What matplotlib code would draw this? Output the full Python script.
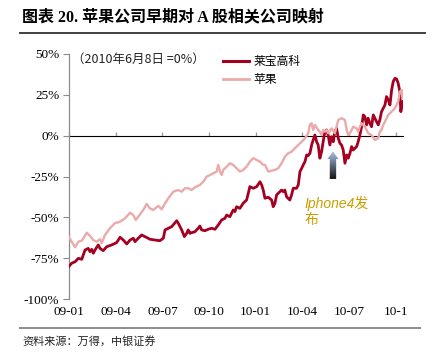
import numpy as np
import matplotlib
matplotlib.use("Agg")
import matplotlib.pyplot as plt
import matplotlib.transforms as mtransforms
from matplotlib.patches import Polygon
from matplotlib.colors import LinearSegmentedColormap
from matplotlib.lines import Line2D

plt.rcParams['font.family'] = ['Liberation Serif', 'Noto Sans CJK SC']

# ---------------- data (months since 2009-01, % change, 2010-06-08 = 0%) -----------
laibao_month = [0.00, 0.17, 0.39, 0.60, 0.82, 1.03, 1.24, 1.35, 1.46, 1.56, 1.67, 1.88, 1.99, 2.20,
                2.42, 2.74, 3.06, 3.28, 3.49, 3.71, 3.92, 4.13, 4.24, 4.45, 4.67, 4.88, 5.20, 5.52,
                5.84, 6.06, 6.17, 6.38, 6.60, 6.92, 7.02, 7.24, 7.41, 7.56, 7.66, 7.77, 7.88, 8.09,
                8.30, 8.41, 8.52, 8.73, 8.95, 9.17, 9.38, 9.59, 9.81, 10.02, 10.13, 10.34, 10.55,
                10.66, 10.77, 10.98, 11.19, 11.41, 11.52, 11.62, 11.84, 12.06, 12.27, 12.38, 12.48,
                12.59, 12.80, 13.02, 13.12, 13.23, 13.34, 13.44, 13.66, 13.76, 13.87, 13.98, 14.19,
                14.30, 14.41, 14.62, 14.73, 14.84, 14.95, 15.05, 15.16, 15.27, 15.37, 15.48, 15.59,
                15.69, 15.80, 15.91, 16.01, 16.12, 16.23, 16.33, 16.44, 16.55, 16.65, 16.76, 16.87,
                16.98, 17.08, 17.19, 17.30, 17.41, 17.51, 17.62, 17.73, 17.84, 17.94, 18.05, 18.16,
                18.26, 18.37, 18.48, 18.58, 18.69, 18.80, 18.91, 19.01, 19.12, 19.22, 19.33, 19.44,
                19.55, 19.65, 19.76, 19.87, 19.97, 20.08, 20.19, 20.30, 20.40, 20.51, 20.62, 20.73,
                20.83, 20.94, 21.05, 21.15, 21.26, 21.32, 21.40, 21.46]
laibao_value = [-80.0, -78.1, -77.2, -75.1, -75.7, -70.0, -69.0, -71.0, -69.6, -72.0, -70.0, -66.9,
                -69.0, -70.4, -68.0, -66.9, -65.5, -62.2, -63.9, -66.3, -63.9, -62.8, -64.9, -62.8,
                -60.8, -61.8, -63.4, -63.9, -64.3, -62.8, -57.7, -56.7, -55.7, -52.1, -53.6, -57.7,
                -61.8, -59.8, -57.7, -59.8, -59.4, -58.8, -56.7, -55.3, -57.7, -58.2, -57.3, -56.7,
                -57.3, -54.7, -51.6, -50.6, -48.6, -49.6, -45.5, -46.5, -43.5, -44.5, -41.4, -39.4,
                -35.3, -31.2, -32.2, -31.2, -28.2, -30.2, -33.3, -38.3, -37.7, -39.4, -43.5, -41.4,
                -36.3, -35.3, -33.3, -34.3, -33.3, -37.4, -39.4, -36.3, -32.2, -32.2, -30.2, -22.0,
                -20.0, -17.9, -15.9, -11.8, -12.2, -10.8, -5.7, -2.6, 0.4, -3.7, -5.7, -13.8, -9.8,
                -3.7, 2.4, 3.5, 0.4, -5.7, -0.6, -3.7, 2.4, 4.5, -1.6, -4.7, -5.7, -8.8, -16.9,
                -11.8, -13.8, -10.8, -6.7, -8.8, -7.7, -6.7, -3.7, 0.4, 5.5, 12.7, 11.6, 6.6, 10.7,
                7.6, 5.5, 12.7, 10.7, 8.6, 6.6, 9.6, 14.7, 16.8, 18.8, 23.9, 21.9, 18.8, 28.0, 33.1,
                35.1, 34.7, 32.1, 26.9, 14.7, 18.8, 20.8]

apple_month = [0.00, 0.17, 0.39, 0.60, 0.82, 1.14, 1.35, 1.56, 1.78, 1.99, 2.10, 2.31, 2.63, 2.95,
               3.28, 3.60, 3.92, 4.13, 4.29, 4.45, 4.77, 4.99, 5.20, 5.41, 5.74, 5.95, 6.17, 6.38,
               6.70, 7.02, 7.24, 7.45, 7.66, 7.88, 8.09, 8.41, 8.63, 8.84, 9.06, 9.27, 9.49, 9.59,
               9.70, 9.81, 9.91, 10.13, 10.34, 10.55, 10.77, 10.98, 11.19, 11.41, 11.62, 11.84,
               12.06, 12.27, 12.48, 12.59, 12.70, 12.80, 13.02, 13.23, 13.44, 13.66, 13.87, 14.08,
               14.30, 14.52, 14.73, 14.95, 15.16, 15.37, 15.48, 15.59, 15.69, 15.80, 16.01, 16.12,
               16.23, 16.33, 16.44, 16.55, 16.65, 16.87, 17.08, 17.30, 17.51, 17.73, 17.84, 17.94,
               18.05, 18.16, 18.26, 18.48, 18.58, 18.69, 18.80, 19.01, 19.12, 19.22, 19.44, 19.65,
               19.87, 19.97, 20.08, 20.19, 20.30, 20.51, 20.73, 20.94, 21.15, 21.26, 21.37, 21.43]
apple_value = [-62.2, -64.9, -68.3, -64.9, -64.3, -59.4, -61.4, -63.9, -64.9, -63.4, -65.9, -60.8,
               -56.7, -53.6, -52.7, -50.6, -47.2, -48.6, -51.6, -49.6, -45.5, -41.8, -44.5, -45.5,
               -43.0, -45.1, -41.4, -38.3, -34.3, -33.3, -34.3, -32.2, -32.2, -33.3, -31.6, -30.2,
               -28.2, -25.1, -24.1, -23.0, -22.0, -17.9, -22.0, -24.1, -21.0, -19.0, -16.9, -17.9,
               -20.0, -22.0, -21.0, -19.0, -15.9, -13.8, -14.9, -15.9, -17.9, -17.9, -20.0, -22.0,
               -21.4, -21.0, -20.0, -16.9, -12.9, -10.8, -9.8, -7.7, -5.7, -3.7, -1.6, 1.5, 6.6,
               7.6, 3.5, 6.6, 3.5, 2.4, 0.4, 3.5, 2.4, 3.5, 1.5, 4.5, 1.5, 9.6, 10.7, 9.6, 3.5, 0.4,
               1.5, 3.5, 5.5, 4.5, 2.4, 5.5, 7.6, 5.5, 3.5, 1.5, 0.4, -2.6, -1.6, 2.4, 3.5, 6.6, 8.6,
               12.7, 14.7, 16.8, 20.8, 26.9, 28.0, 22.9]

series_names = ['莱宝高科', '苹果']
x_ticks = [0, 3, 6, 9, 12, 15, 18, 21]
x_labels = ['09-01', '09-04', '09-07', '09-10', '10-01', '10-04', '10-07', '10-1']
y_ticks = [-100, -75, -50, -25, 0, 25, 50]

title = '图表 20. 苹果公司早期对 A 股相关公司映射'
note = '（2010年6月8日 =0%）'
event_label = 'Iphone4发\n布'
source = '资料来源：万得，中银证券'
event_month, event_low = 16.96, -26.5   # arrow base (month, %)

c_lb = '#A50021'
c_ap = '#EBAAAA'

# ---------------- figure ----------------
fig = plt.figure(figsize=(4.35, 3.54), dpi=100)
ax = fig.add_axes([69/435, 1-299/354, (403-69)/435, (299-54)/354])

ax.plot(laibao_month, laibao_value, color=c_lb, lw=2.0, zorder=3, solid_joinstyle='round')
ax.plot(apple_month, apple_value, color=c_ap, lw=1.7, zorder=4, solid_joinstyle='round')

# arrow with gradient
trans = fig.dpi_scale_trans + mtransforms.ScaledTranslation(event_month, event_low, ax.transData)
verts = [(-0.032, 0), (0.032, 0), (0.032, 0.2), (0.055, 0.2), (0, 0.275), (-0.055, 0.2), (-0.032, 0.2)]
poly = Polygon(verts, closed=True, transform=trans, facecolor='none', edgecolor='none')
ax.add_patch(poly)
grad = np.linspace(0, 1, 100).reshape(-1, 1)
cmap = LinearSegmentedColormap.from_list('arr', ['#141414', '#5d6a7d', '#aac4ea'])
im = ax.imshow(grad, extent=[-0.06, 0.06, 0, 0.28], origin='lower', cmap=cmap,
               aspect='auto', transform=trans, zorder=5)
im.set_clip_path(poly)

ax.text(15.16, -37.0, event_label, color='#C9A000', fontsize=10, style='italic',
        family=['Liberation Sans', 'Noto Sans CJK SC'], ha='left', va='top', linespacing=1.15)

ax.text(0.2, 47, note, fontsize=9, family=['Noto Sans CJK SC', 'DejaVu Sans'],
        ha='left', va='center', color='#222222')

ax.set_xlim(0, 21.46)
ax.set_ylim(-100, 50)

for s in ['top', 'right', 'bottom']:
    ax.spines[s].set_visible(False)
ax.spines['left'].set_color('#8c8c8c')
ax.spines['left'].set_linewidth(0.9)

ax.set_yticks(y_ticks)
ax.set_yticklabels([f'{v}%' for v in y_ticks])
ax.tick_params(axis='y', direction='out', length=4, color='#8c8c8c', labelsize=9.5, pad=3)
ax.set_xticks(x_ticks)
ax.set_xticklabels(x_labels)
ax.tick_params(axis='x', length=0, labelsize=9.5, pad=5)

sec = ax.secondary_xaxis(2/3)
sec.set_xticks(x_ticks)
sec.set_xticklabels([])
sec.tick_params(axis='x', direction='out', length=3, color='#999999', width=0.9)
sec.spines['bottom'].set_color('#999999')
sec.spines['bottom'].set_linewidth(0.9)

handles = [Line2D([], [], color=c_lb, lw=2.2), Line2D([], [], color=c_ap, lw=2.0)]
ax.legend(handles, series_names, loc='upper left', bbox_to_anchor=(0.462, 0.995),
          frameon=False, borderpad=0, borderaxespad=0, handlelength=2.2, handletextpad=0.35,
          labelspacing=0.42, prop={'family': ['Noto Sans CJK SC'], 'size': 8.5})

# title and rules
fig.text(22/435, 1-17/354, title, fontsize=11.5, fontweight='bold', ha='left', va='center',
         family=['Liberation Serif', 'Noto Sans CJK SC'])
fig.add_artist(Line2D([20/435, 425/435], [1-33/354, 1-33/354], color='#404040', lw=1.4))
fig.add_artist(Line2D([20/435, 420/435], [1-328/354, 1-328/354], color='#8c8c8c', lw=1.4))
fig.text(22/435, 1-341/354, source, fontsize=8, style='italic', ha='left', va='center',
         family=['Noto Sans CJK SC'], color='#222222')

fig.savefig('out.png', dpi=100)
